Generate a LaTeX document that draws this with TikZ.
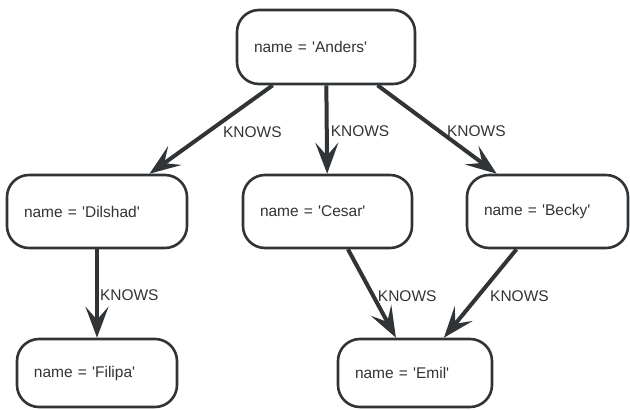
\documentclass[tikz,border=0pt]{standalone}
\usepackage{fontspec}
\setmainfont{Liberation Sans}
\usetikzlibrary{arrows.meta}
\definecolor{ink}{HTML}{303437}
\definecolor{txt}{HTML}{333333}
\newcommand{\q}{\textquotesingle}
\tikzset{
  person/.style={draw=ink, line width=2.6pt, rounded corners=22pt,
    fill=white, text=txt, align=left, inner xsep=17pt, inner ysep=0pt,
    text width=#1, font=\fontsize{15.5}{18}\selectfont},
  rel/.style={draw=ink, line width=4pt,
    -{Stealth[length=31pt, width=23pt, inset=13pt]}},
  lbl/.style={text=txt, inner sep=0pt, anchor=west,
    font=\fontsize{15.5}{18}\selectfont}
}
\begin{document}
\begin{tikzpicture}[x=1pt, y=-1pt]
  \useasboundingbox (0,0) rectangle (630,410);
  % people
  \node[person=144pt, minimum height=74pt] (anders)  at (326,47)    {name = \q Anders\q};
  \node[person=146pt, minimum height=73pt] (dilshad) at (97,211.5)  {name = \q Dilshad\q};
  \node[person=135pt, minimum height=73pt] (cesar)   at (327.5,211.5) {name = \q Cesar\q};
  \node[person=127pt, minimum height=73pt] (becky)   at (547.5,211.5) {name = \q Becky\q};
  \node[person=126pt, minimum height=68pt] (filipa)  at (97,373)    {name = \q Filipa\q};
  \node[person=120pt, minimum height=68pt] (emil)    at (415,373)   {name = \q Emil\q};
  % relationships
  \draw[rel] (anders) -- node[lbl, xshift=10pt, yshift=-3pt] {KNOWS} (dilshad);
  \draw[rel] (anders) -- node[lbl, xshift=2pt, yshift=-2pt] {KNOWS} (cesar);
  \draw[rel] (anders) -- node[lbl, xshift=8pt, yshift=-2pt] {KNOWS} (becky);
  \draw[rel] (dilshad) -- node[lbl, xshift=1pt, yshift=-2pt] {KNOWS} (filipa);
  \draw[rel] (cesar) -- node[lbl, xshift=4pt, yshift=-3pt] {KNOWS} (emil);
  \draw[rel] (becky) -- node[lbl, xshift=8pt, yshift=-3pt] {KNOWS} (emil);
\end{tikzpicture}
\end{document}
